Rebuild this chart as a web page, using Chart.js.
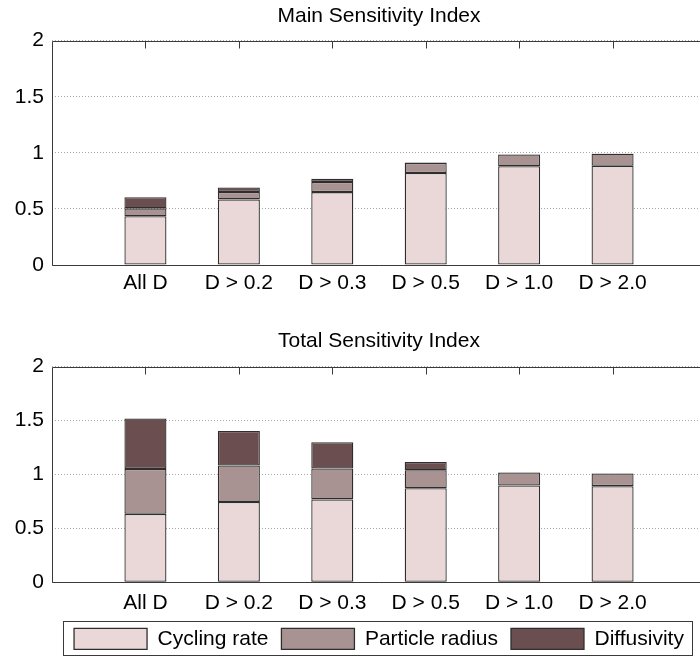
<!DOCTYPE html>
<html>
<head>
<meta charset="utf-8">
<script src="https://cdn.jsdelivr.net/npm/chart.js@4/dist/chart.umd.min.js"></script>
<style>
  html, body { margin: 0; padding: 0; background: #fff; width: 700px; height: 658px; overflow: hidden; }
  .panel { position: absolute; left: 0; width: 712px; }
  #mainPanel { top: 0; height: 300px; }
  #totalPanel { top: 310px; height: 349.3px; }
</style>
</head>
<body>
<div class="panel" id="mainPanel"><canvas id="mainChart"></canvas></div>
<div class="panel" id="totalPanel"><canvas id="totalChart"></canvas></div>
<script>
// Filter thresholds on D
const categories = ['All D', 'D > 0.2', 'D > 0.3', 'D > 0.5', 'D > 1.0', 'D > 2.0'];

// Main (first-order) sensitivity index, per parameter
const mainCycling     = [0.435, 0.585, 0.650, 0.820, 0.880, 0.885];
const mainRadius      = [0.070, 0.067, 0.090, 0.090, 0.105, 0.108];
const mainDiffusivity = [0.100, 0.040, 0.030, 0.005, 0.003, 0.002];

// Total sensitivity index, per parameter
const totalCycling     = [0.635, 0.746, 0.769, 0.873, 0.898, 0.892];
const totalRadius      = [0.417, 0.337, 0.287, 0.167, 0.120, 0.117];
const totalDiffusivity = [0.467, 0.321, 0.243, 0.077, 0.003, 0.003];

const seriesNames = ['Cycling rate', 'Particle radius', 'Diffusivity'];
const yMin = 0, yMax = 2, yStep = 0.5;

const FONT = "'Liberation Sans', Arial, Helvetica, sans-serif";
const FILLS = ['#ead8d8', '#a89392', '#6b4e4f'];
const EDGE = '#2e2e2e';

// Box around the plot area plus inward tick marks along the top edge
const axesBox = {
  id: 'axesBox',
  afterDatasetsDraw(chart) {
    const { ctx, chartArea: a, scales: { x } } = chart;
    ctx.save();
    ctx.strokeStyle = '#3a3a3a';
    ctx.lineWidth = 1;
    const l = Math.round(a.left) + 0.5, t = Math.round(a.top) + 0.5;
    const r = Math.round(a.right) + 0.5, b = Math.round(a.bottom) + 0.5;
    ctx.beginPath();
    ctx.moveTo(l, t); ctx.lineTo(r, t); ctx.lineTo(r, b); ctx.lineTo(l, b); ctx.closePath();
    categories.forEach((c, i) => {
      const px = Math.round(x.getPixelForValue(i + 1)) + 0.5;
      ctx.moveTo(px, t);
      ctx.lineTo(px, t + 7);
    });
    ctx.stroke();
    ctx.restore();
  }
};

// Frame drawn around the legend entries
const legendFrame = {
  id: 'legendFrame',
  afterDraw(chart) {
    const lg = chart.legend;
    if (!lg || !lg.legendHitBoxes || !lg.legendHitBoxes.length) return;
    const hb = lg.legendHitBoxes;
    const first = hb[0], last = hb[hb.length - 1];
    const left = Math.round(first.left - 11) + 0.5;
    const right = Math.round(last.left + last.width + 8) + 0.5;
    const top = Math.round(first.top - 7) + 0.5;
    const bottom = Math.round(first.top + first.height + 6) + 0.5;
    const ctx = chart.ctx;
    ctx.save();
    ctx.strokeStyle = '#3a3a3a';
    ctx.lineWidth = 1;
    ctx.strokeRect(left, top, right - left, bottom - top);
    ctx.restore();
  }
};

function buildDatasets(seriesList) {
  return seriesList.map((vals, k) => ({
    label: seriesNames[k],
    data: vals.map((v, i) => ({ x: i + 1, y: v })),
    backgroundColor: FILLS[k],
    borderColor: EDGE,
    borderWidth: 1.3,
    borderSkipped: false,
    barPercentage: 0.45,
    categoryPercentage: 1.0
  }));
}

function buildChart(canvasId, title, seriesList, opts) {
  return new Chart(document.getElementById(canvasId), {
    type: 'bar',
    data: { datasets: buildDatasets(seriesList) },
    plugins: opts.withLegend ? [axesBox, legendFrame] : [axesBox],
    options: {
      responsive: true,
      maintainAspectRatio: false,
      animation: false,
      layout: { padding: { left: 0, right: 6, top: 0, bottom: 0 } },
      plugins: {
        title: {
          display: true,
          fullSize: false,
          text: title,
          color: '#000',
          font: { family: FONT, size: 21, weight: 'normal' },
          padding: { top: opts.titleTop, bottom: opts.titleBottom }
        },
        legend: opts.withLegend ? {
          display: true,
          position: 'bottom',
          fullSize: false,
          labels: {
            color: '#000',
            font: { family: FONT, size: 21 },
            boxWidth: 73,
            boxHeight: 21,
            padding: 13
          }
        } : { display: false },
        tooltip: { enabled: false }
      },
      scales: {
        x: {
          type: 'linear',
          stacked: true,
          min: 0,
          max: categories.length + 1,
          offset: false,
          grid: { display: false, drawTicks: false },
          border: { display: false },
          afterBuildTicks: (s) => { s.ticks = categories.map((c, i) => ({ value: i + 1 })); },
          afterFit: (s) => { s.height = opts.xAxisHeight; },
          ticks: {
            autoSkip: false,
            maxRotation: 0,
            padding: opts.xPad,
            color: '#000',
            font: { family: FONT, size: 21 },
            callback: (v) => categories[v - 1] || ''
          }
        },
        y: {
          stacked: true,
          min: yMin,
          max: yMax,
          grid: { color: '#a8a8a8', lineWidth: 1, drawTicks: false },
          border: { display: false, dash: [1, 2] },
          afterFit: (s) => { s.width = 52; },
          ticks: {
            stepSize: yStep,
            padding: 8,
            color: '#000',
            font: { family: FONT, size: 21 },
            callback: (v) => String(v)
          }
        }
      }
    }
  });
}

buildChart('mainChart', 'Main Sensitivity Index',
  [mainCycling, mainRadius, mainDiffusivity],
  { withLegend: false, titleTop: 3.3, titleBottom: 12.2, xAxisHeight: 35, xPad: 6 });

buildChart('totalChart', 'Total Sensitivity Index',
  [totalCycling, totalRadius, totalDiffusivity],
  { withLegend: true, titleTop: 19, titleBottom: 12.5, xAxisHeight: 33, xPad: 8 });
</script>
</body>
</html>
